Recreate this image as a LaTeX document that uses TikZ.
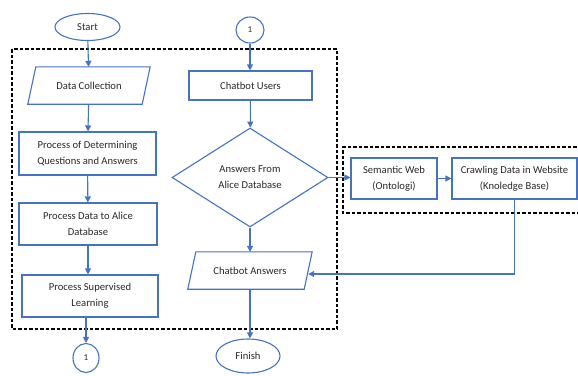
\documentclass[tikz,border=0pt]{standalone}
\usepackage{fontspec}
\setmainfont{Carlito}
\usetikzlibrary{shapes.geometric,arrows.meta,calc}
\definecolor{obl}{RGB}{68,114,196}
\definecolor{txt}{RGB}{40,40,40}
\tikzset{
  every node/.style={font=\fontsize{10.6}{16}\selectfont, text=txt},
  boxnode/.style={draw=obl, line width=1.1pt, rectangle, align=center, inner sep=0pt},
  ghost/.style={draw=none, rectangle, align=center, inner sep=0pt},
  termnode/.style={draw=obl, line width=1.1pt, ellipse, inner sep=0pt},
  decnode/.style={draw=obl, line width=1.1pt, diamond, inner sep=0pt, align=center},
  slantbox/.style={draw=obl, line width=1.1pt},
  flow/.style={draw=obl, line width=1.1pt, -{Triangle[length=6pt,width=6pt]}},
  dashbox/.style={draw=black, line width=1.5pt, dash pattern=on 3.5pt off 2pt},
}
\begin{document}
\begin{tikzpicture}[x=1pt,y=-1pt]
\useasboundingbox (0,0) rectangle (578,375);
% dashed regions
\draw[dashbox] (12,49) rectangle (337,329);
\draw[dashbox] (582,147) -- (343,147) -- (343,213) -- (582,213);
% left column
\node[termnode, minimum width=65pt, minimum height=27pt] (start) at (87.5,27) {Start};
\node[ghost, minimum width=114pt, minimum height=37pt] (dc) at (89,85.5) {Data Collection};
\draw[slantbox] ([xshift=-4pt]dc.south west) -- ([xshift=4pt]dc.north west) -- ([xshift=4pt]dc.north east) -- ([xshift=-4pt]dc.south east) -- cycle;
\node[boxnode, minimum width=137pt, minimum height=43pt] (pd) at (87.5,153.5) {Process of Determining\\Questions and Answers};
\node[boxnode, minimum width=138pt, minimum height=42pt] (pa) at (88,224) {Process Data to Alice\\Database};
\node[boxnode, minimum width=136pt, minimum height=42pt] (ps) at (90,296) {Process Supervised\\Learning};
\node[termnode, minimum width=26pt, minimum height=29pt, font=\fontsize{9}{10}\selectfont] (c1b) at (86,358) {1};
% middle column
\node[termnode, minimum width=28pt, minimum height=26pt, font=\fontsize{9}{10}\selectfont] (c1t) at (250,30) {1};
\node[boxnode, minimum width=123pt, minimum height=29pt] (cu) at (250.5,85.5) {Chatbot Users};
\node[decnode, minimum width=156pt, minimum height=99pt] (dia) at (250,177.5) {Answers From\\Alice Database};
\node[ghost, minimum width=116pt, minimum height=37pt] (ca) at (250,270.5) {Chatbot Answers};
\draw[slantbox] ([xshift=-4pt]ca.south west) -- ([xshift=4pt]ca.north west) -- ([xshift=4pt]ca.north east) -- ([xshift=-4pt]ca.south east) -- cycle;
\node[termnode, minimum width=64pt, minimum height=34pt] (fin) at (248,356) {Finish};
% right column
\node[boxnode, minimum width=86pt, minimum height=41pt] (sw) at (394,178.5) {Semantic Web\\(Ontologi)};
\node[boxnode, minimum width=125pt, minimum height=41pt] (cr) at (514.5,178.5) {Crawling Data in Website\\(Knoledge Base)};
% connectors
\draw[flow] (start) -- (dc);
\draw[flow] (dc) -- (pd);
\draw[flow] (pd) -- (pa);
\draw[flow] (pa.south) -- (pa.south |- ps.north);
\draw[flow] (ps.south -| c1b.north) -- (c1b.north);
\draw[flow] (c1t) -- (c1t |- cu.north);
\draw[flow] (cu) -- (dia);
\draw[flow] (dia) -- (dia |- ca.north);
\draw[flow] (ca.south) -- (ca.south |- fin.north);
\draw[flow] (dia.east) -- (dia.east -| sw.west);
\draw[flow] (sw) -- (cr);
\draw[flow] (cr.south) |- ([yshift=-3.5pt]ca.east);
\end{tikzpicture}
\end{document}
